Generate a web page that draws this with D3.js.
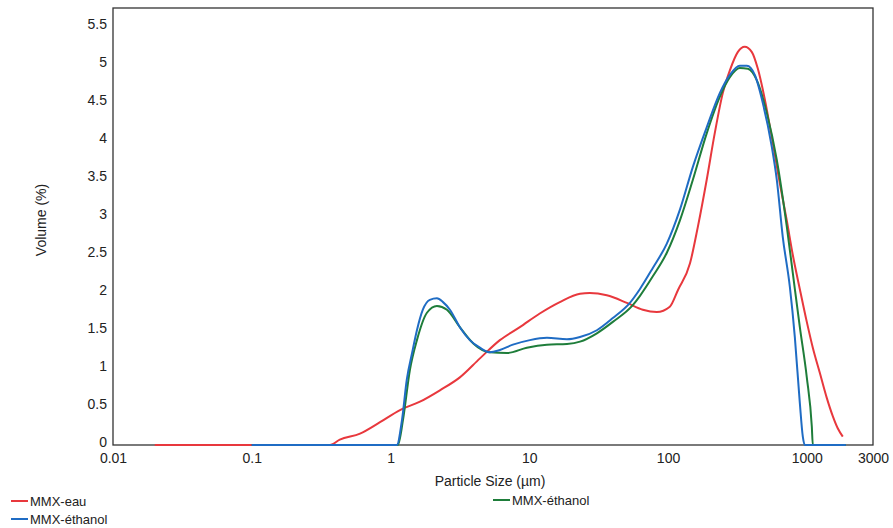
<!DOCTYPE html>
<html>
<head>
<meta charset="utf-8">
<script src="https://cdn.jsdelivr.net/npm/d3@7"></script>
<style>
  html, body { margin: 0; padding: 0; background: #ffffff; }
  svg { display: block; }
  text { font-family: "Liberation Sans", Arial, sans-serif; fill: #222; }
</style>
</head>
<body>
<svg id="chart" width="893" height="528"></svg>
<script>
// ---- data (particle size in µm, volume in %) ----
const seriesNames = ["MMX-eau", "MMX-éthanol", "MMX-éthanol"];
const seriesColors = ["#e8383d", "#1e7d3a", "#1f6cc4"];

const eauSize = [0.02, 0.366, 0.431, 0.603, 0.84, 1.17, 1.63, 2.27, 3.16, 4.41, 6.14, 8.55, 11.9, 16.6, 23.2, 27.3, 36.2, 50.5, 65.8, 83, 103, 118, 144, 164, 190, 217, 248, 279, 318, 357, 402, 444, 498, 569, 638, 718, 793, 891, 1000, 1105, 1241, 1393, 1539, 1671, 1817];
const eauVol  = [0, 0, 0.07, 0.15, 0.30, 0.46, 0.57, 0.72, 0.89, 1.14, 1.38, 1.55, 1.73, 1.88, 1.99, 2.0, 1.97, 1.87, 1.78, 1.75, 1.82, 2.04, 2.39, 2.87, 3.49, 4.1, 4.63, 4.93, 5.17, 5.24, 5.17, 4.95, 4.55, 3.97, 3.45, 2.95, 2.5, 2.05, 1.62, 1.28, 0.95, 0.62, 0.38, 0.22, 0.11];

const ethGSize = [0.1, 1.13, 1.23, 1.38, 1.55, 1.83, 2.16, 2.55, 3.16, 3.93, 5.2, 6.9, 9.6, 13.4, 18.7, 23.2, 30.7, 40, 55.7, 62.6, 77.7, 98, 122, 151, 190, 236, 279, 329, 376, 436, 515, 608, 718, 793, 891, 1000, 1087, 1105, 1910];
const ethGVol  = [0, 0, 0.33, 0.99, 1.38, 1.74, 1.83, 1.78, 1.55, 1.34, 1.22, 1.21, 1.28, 1.32, 1.33, 1.36, 1.47, 1.62, 1.84, 1.96, 2.22, 2.53, 2.96, 3.49, 4.1, 4.58, 4.84, 4.96, 4.95, 4.8, 4.37, 3.75, 2.87, 2.26, 1.55, 0.89, 0.24, 0, 0];

const ethBSize = [0.1, 1.11, 1.21, 1.31, 1.43, 1.55, 1.71, 1.92, 2.16, 2.39, 2.68, 3.16, 3.73, 4.41, 5.2, 6.14, 7.62, 10.1, 13.4, 18.7, 23.2, 30.7, 40, 53.1, 62.6, 77.7, 98, 122, 151, 190, 236, 279, 329, 370, 422, 482, 560, 608, 671, 755, 820, 891, 936, 968, 1910];
const ethBVol  = [0, 0, 0.33, 0.86, 1.21, 1.51, 1.78, 1.91, 1.93, 1.88, 1.78, 1.55, 1.38, 1.28, 1.22, 1.25, 1.32, 1.38, 1.41, 1.39, 1.42, 1.51, 1.67, 1.87, 2.05, 2.33, 2.65, 3.1, 3.66, 4.18, 4.63, 4.87, 4.99, 4.99, 4.87, 4.5, 3.92, 3.49, 2.74, 2.08, 1.42, 0.55, 0.11, 0, 0];

const xTicks = [0.01, 0.1, 1, 10, 100, 1000, 3000];
const xTickLabels = ["0.01", "0.1", "1", "10", "100", "1000", "3000"];
const yTicks = [0, 0.5, 1, 1.5, 2, 2.5, 3, 3.5, 4, 4.5, 5, 5.5];

// ---- layout ----
const svg = d3.select("#chart");
const mLeft = 113, mRight = 873, mTop = 8, mBottom = 445;

const x = d3.scaleLog().domain([0.01, 3000]).range([mLeft, mRight]);
const y = d3.scaleLinear().domain([0, 5.75]).range([mBottom, mTop]);

// frame
svg.append("rect")
  .attr("x", mLeft).attr("y", mTop)
  .attr("width", mRight - mLeft).attr("height", mBottom - mTop)
  .attr("fill", "none").attr("stroke", "#333").attr("stroke-width", 1.3);

// x axis (labels only)
const xAxis = d3.axisBottom(x).tickValues(xTicks)
  .tickFormat((d, i) => xTickLabels[i]).tickSize(0).tickPadding(8);
const gx = svg.append("g").attr("transform", `translate(0,${mBottom})`).call(xAxis);
gx.select(".domain").remove();
gx.selectAll("text").attr("font-size", 14).attr("fill", "#222")
  .attr("font-family", "Liberation Sans, Arial, sans-serif");

// y axis (labels only)
const yAxis = d3.axisLeft(y).tickValues(yTicks)
  .tickFormat(d3.format("~g")).tickSize(0).tickPadding(6);
const gy = svg.append("g").attr("transform", `translate(${mLeft},0)`).call(yAxis);
gy.select(".domain").remove();
gy.selectAll("text").attr("font-size", 14).attr("fill", "#222").attr("dy", "0.1em")
  .attr("font-family", "Liberation Sans, Arial, sans-serif");

// axis titles
svg.append("text").attr("x", 490).attr("y", 486).attr("text-anchor", "middle")
  .attr("font-size", 14).text("Particle Size (µm)");
svg.append("text").attr("transform", "translate(46,220) rotate(-90)")
  .attr("text-anchor", "middle").attr("font-size", 14).text("Volume (%)");

// lines
const line = d3.line().x(d => x(d[0])).y(d => y(d[1])).curve(d3.curveMonotoneX);
const series = [
  { sizes: eauSize, vols: eauVol, color: seriesColors[0] },
  { sizes: ethGSize, vols: ethGVol, color: seriesColors[1] },
  { sizes: ethBSize, vols: ethBVol, color: seriesColors[2] }
];
series.forEach(s => {
  const pts = s.sizes.map((v, i) => [v, s.vols[i]]);
  svg.append("path").datum(pts).attr("d", line)
    .attr("fill", "none").attr("stroke", s.color).attr("stroke-width", 2)
    .attr("stroke-linejoin", "round");
});

// legend
const legend = [
  { name: seriesNames[0], color: seriesColors[0], lx: 11, ly: 501 },
  { name: seriesNames[2], color: seriesColors[2], lx: 11, ly: 519 },
  { name: seriesNames[1], color: seriesColors[1], lx: 493, ly: 500 }
];
legend.forEach(l => {
  svg.append("line").attr("x1", l.lx).attr("x2", l.lx + 17)
    .attr("y1", l.ly).attr("y2", l.ly).attr("stroke", l.color).attr("stroke-width", 2);
  svg.append("text").attr("x", l.lx + 19).attr("y", l.ly + 5)
    .attr("font-size", 13).text(l.name);
});
</script>
</body>
</html>
